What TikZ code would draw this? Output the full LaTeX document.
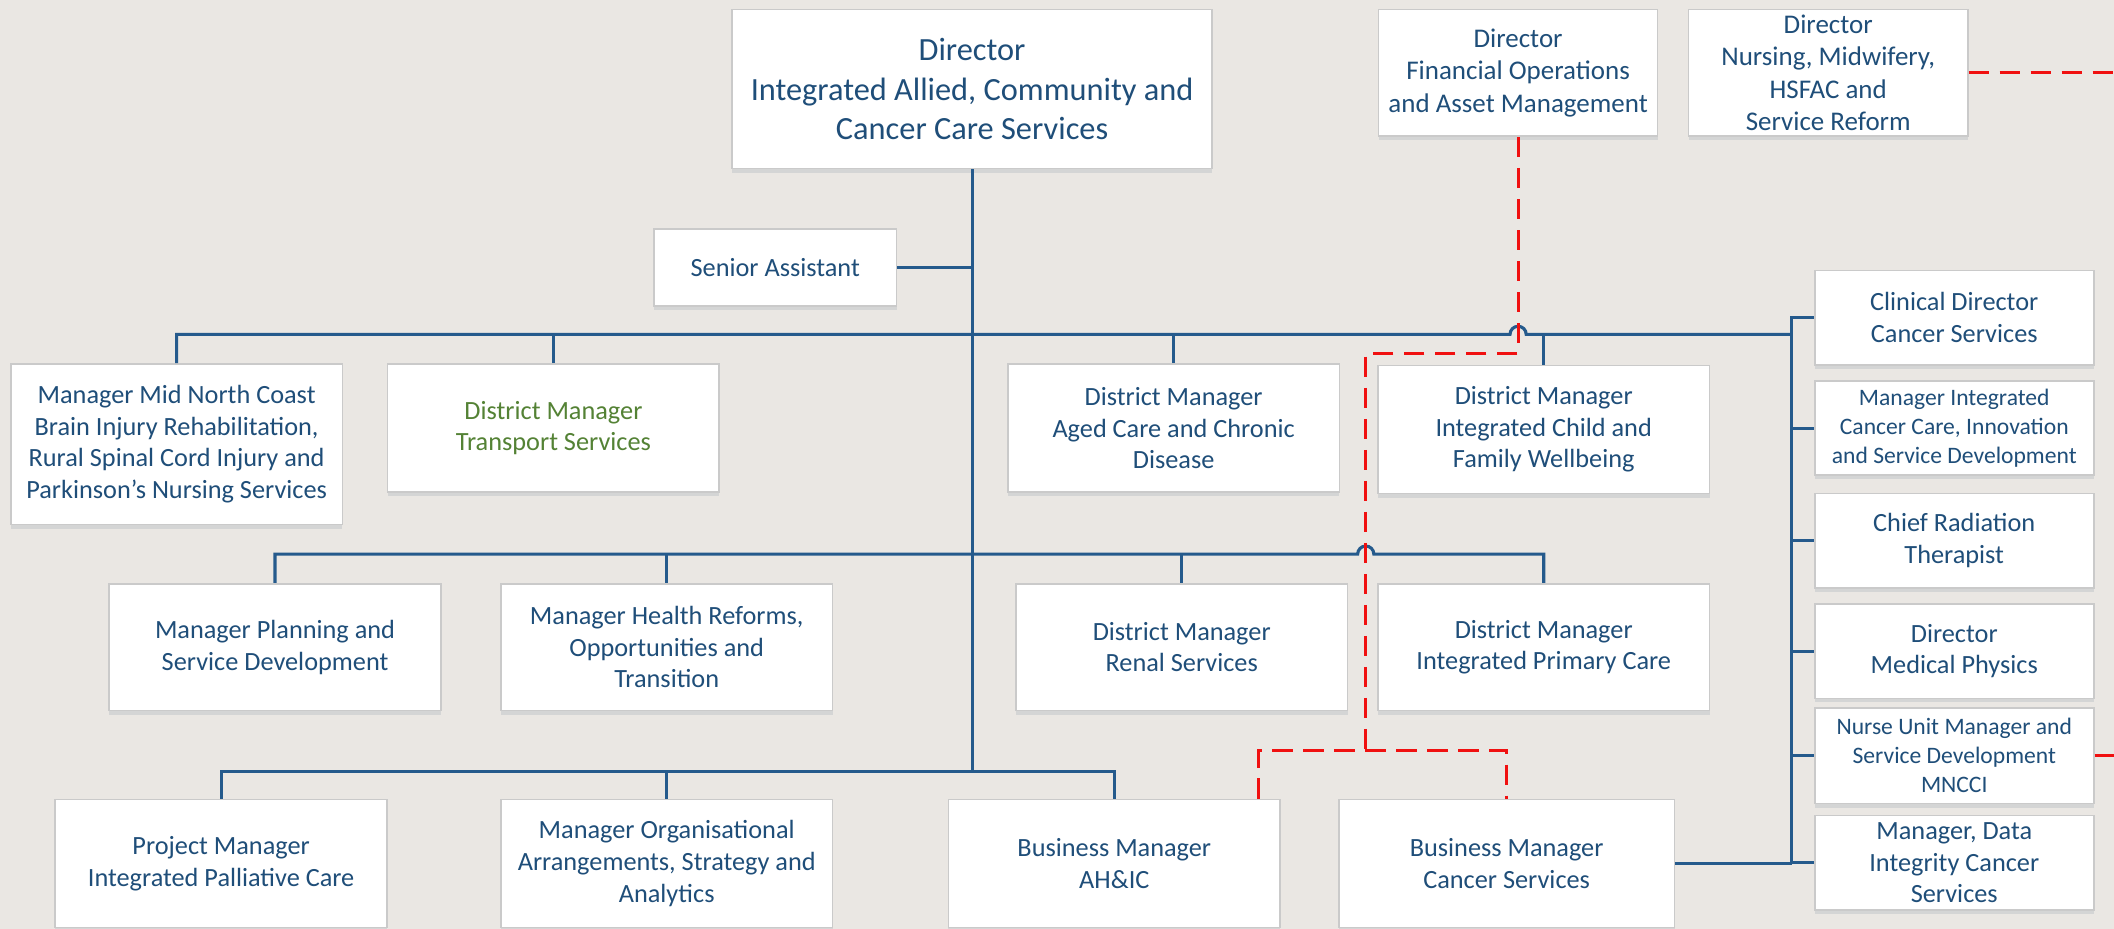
\documentclass[tikz,border=0pt]{standalone}
\usepackage{fontspec}
\setmainfont{Carlito}
\usetikzlibrary{shadows}
\definecolor{orgblue}{HTML}{1F4E79}
\definecolor{linkblue}{HTML}{255A8C}
\definecolor{orggreen}{HTML}{548235}
\definecolor{boxgray}{HTML}{CACACA}
\definecolor{paper}{HTML}{EAE7E3}
\definecolor{dotred}{HTML}{F01010}
\begin{document}
\begin{tikzpicture}[x=1pt,y=-1pt,
    link/.style={draw=linkblue,line width=2.3pt},
    redlink/.style={draw=dotred,line width=2.2pt,dash pattern=on 15pt off 8pt},
    big/.style={font=\fontsize{24}{29}\selectfont},
    small/.style={font=\fontsize{17.5}{21.5}\selectfont}]

  \fill[paper] (0,0) rectangle (1568,689);
  \useasboundingbox (0,0) rectangle (1568,689);

  % the boxes
  \tikzstyle{post}=[draw=boxgray,line width=1.2pt,fill=white,align=center,
    text=orgblue,inner sep=2pt,font=\fontsize{19.5}{23.5}\selectfont,
    minimum width=246pt,minimum height=95pt,
    drop shadow={shadow xshift=0pt,shadow yshift=-3pt,opacity=.14,
      fill=linkblue!50!gray}]
  \tikzstyle{side}=[post,minimum width=207pt,minimum height=70pt]

  \node[post,big,minimum width=356pt,minimum height=118pt] (dir) at (721,66)
    {Director\\Integrated Allied, Community and\\Cancer Care Services};
  \node[side,minimum height=94pt,font=\fontsize{20}{24}\selectfont] (fin) at (1126,54)
    {Director\\Financial Operations\\and Asset Management};
  \node[side,minimum height=94pt,font=\fontsize{20}{24}\selectfont] (nurs) at (1356,54)
    {Director\\Nursing, Midwifery,\\HSFAC and\\Service Reform};
  \node[post,minimum width=180pt,minimum height=57pt] (sa) at (575,198.5)
    {Senior Assistant};

  \node[post,minimum height=119pt] (mnc) at (131,329.5)
    {Manager Mid North Coast\\Brain Injury Rehabilitation,\\Rural Spinal Cord Injury and\\Parkinson’s Nursing Services};
  \node[post,text=orggreen] (trans) at (410.5,317.5)
    {District Manager\\Transport Services};
  \node[post] (aged) at (870.5,317.5)
    {District Manager\\Aged Care and Chronic\\Disease};
  \node[post] (child) at (1145,318.5)
    {District Manager\\Integrated Child and\\Family Wellbeing};

  \node[post,minimum height=94pt] (plan) at (204,480)
    {Manager Planning and\\Service Development};
  \node[post,minimum height=94pt] (reform) at (494.5,480)
    {Manager Health Reforms,\\Opportunities and\\Transition};
  \node[post,minimum height=94pt] (renal) at (876.5,480)
    {District Manager\\Renal Services};
  \node[post,minimum height=94pt] (prim) at (1145,480)
    {District Manager\\Integrated Primary Care};

  \node[post] (pall) at (164,640.5)
    {Project Manager\\Integrated Palliative Care};
  \node[post] (org) at (494.5,640.5)
    {Manager Organisational\\Arrangements, Strategy and\\Analytics};
  \node[post] (bmah) at (826.5,640.5)
    {Business Manager\\AH\&IC};
  \node[post,minimum width=249pt] (bmcs) at (1117.5,640.5)
    {Business Manager\\Cancer Services};

  \node[side] (clin) at (1449.5,235.5) {Clinical Director\\Cancer Services};
  \node[side,small] (innov) at (1449.5,317.5)
    {Manager Integrated\\Cancer Care, Innovation\\and Service Development};
  \node[side] (rad) at (1449.5,401) {Chief Radiation\\Therapist};
  \node[side] (phys) at (1449.5,483) {Director\\Medical Physics};
  \node[side,small,minimum height=71pt] (nurse) at (1449.5,560.5)
    {Nurse Unit Manager and\\Service Development\\MNCCI};
  \node[side] (data) at (1449.5,640)
    {Manager, Data\\Integrity Cancer\\Services};

  % the lines
  \coordinate (hop1) at (1120,248);
  \coordinate (hop2) at (1007,411);
  \coordinate (bus3) at (721,572);
  \coordinate (rail) at (1329,248);

  \draw[link] (dir.south) -- (bus3);
  \draw[link] (sa.east) -- (sa.east -| dir.south);

  \draw[link] (mnc.north) |- (hop1) arc[start angle=180,end angle=360,radius=6] -- (rail);
  \foreach \n in {trans,aged,child}
    \draw[link] (\n.north) -- (\n.north |- rail);

  \draw[link] (plan.north) |- (hop2) arc[start angle=180,end angle=360,radius=6] -| (prim.north);
  \foreach \n in {reform,renal}
    \draw[link] (\n.north) -- (\n.north |- hop2);

  \draw[link] (pall.north) |- (bus3) -| (bmah.north);
  \draw[link] (org.north) -- (org.north |- bus3);

  \draw[link] (clin.west) -| (rail) |- (data.west);
  \foreach \n in {innov,rad,phys,nurse}
    \draw[link] (\n.west) -- (\n.west -| rail);
  \draw[link] (bmcs.east) -- (bmcs.east -| rail);

  % the dotted lines
  \coordinate (rtop) at (1013,262);
  \coordinate (rsplit) at (1013,557);
  \coordinate (edge) at (1568,0);
  \draw[redlink] (fin.south) |- (rtop) -- (rsplit);
  \draw[redlink] ([xshift=-17pt]bmah.north east) |- (rsplit) -| (bmcs.north);
  \draw[redlink] (nurs.east) -- (nurs.east -| edge);
  \draw[redlink] (nurse.east) -- (nurse.east -| edge);

\end{tikzpicture}
\end{document}
